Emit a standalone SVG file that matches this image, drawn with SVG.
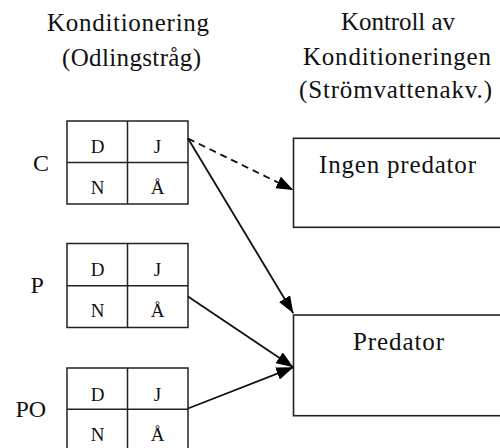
<svg xmlns="http://www.w3.org/2000/svg" width="500" height="448" viewBox="0 0 500 448">
<defs>
<style>
text{font-family:"Liberation Serif","Times New Roman",serif;fill:#111}
.h{font-size:25px}
.g{font-size:19px;text-anchor:middle}
.lab{font-size:24px}
.cell{fill:#fff;stroke:#222;stroke-width:1.5}
.box{fill:#fff;stroke:#222;stroke-width:1.6}
.conn{fill:none;stroke:#111;stroke-width:1.8}
.dash{stroke-dasharray:7 5}
</style>
<marker id="ah" markerUnits="userSpaceOnUse" markerWidth="17" markerHeight="13" refX="17" refY="6.5" orient="auto">
<path d="M0,0 L17,6.5 L0,13 z" fill="#000"/>
</marker>
</defs>
<rect width="500" height="448" fill="#fff"/>

<g id="header-left">
<text class="h" x="47" y="31" textLength="162">Konditionering</text>
<text class="h" x="62" y="65.5" textLength="139">(Odlingstråg)</text>
</g>
<g id="header-right">
<text class="h" x="341" y="29.5" textLength="114">Kontroll av</text>
<text class="h" x="303" y="64.5" textLength="188">Konditioneringen</text>
<text class="h" x="299" y="98" textLength="193">(Strömvattenakv.)</text>
</g>

<g id="grid-C">
<text class="lab" x="33" y="171">C</text>
<rect class="cell" x="67" y="121" width="121" height="83"/>
<line class="cell" x1="67" y1="162.5" x2="188" y2="162.5"/>
<line class="cell" x1="127.5" y1="121" x2="127.5" y2="204"/>
<text class="g" x="97.5" y="152.5">D</text>
<text class="g" x="157.5" y="152.5">J</text>
<text class="g" x="97.5" y="193.5">N</text>
<text class="g" x="157.5" y="193.5">Å</text>
</g>

<g id="grid-P">
<text class="lab" x="30.5" y="293">P</text>
<rect class="cell" x="67" y="243.5" width="121" height="84"/>
<line class="cell" x1="67" y1="285.7" x2="188" y2="285.7"/>
<line class="cell" x1="127.5" y1="243.5" x2="127.5" y2="327.5"/>
<text class="g" x="97.5" y="275.5">D</text>
<text class="g" x="157.5" y="275.5">J</text>
<text class="g" x="97.5" y="317">N</text>
<text class="g" x="157.5" y="317">Å</text>
</g>

<g id="grid-PO">
<text class="lab" x="15.5" y="417">PO</text>
<rect class="cell" x="67" y="368" width="121" height="84"/>
<line class="cell" x1="67" y1="409.3" x2="188" y2="409.3"/>
<line class="cell" x1="127.5" y1="368" x2="127.5" y2="452"/>
<text class="g" x="97.5" y="400.5">D</text>
<text class="g" x="157.5" y="400.5">J</text>
<text class="g" x="97.5" y="441">N</text>
<text class="g" x="157.5" y="441">Å</text>
</g>

<g id="box-ingen">
<rect class="box" x="293.5" y="138.3" width="220" height="89"/>
<text class="h" x="319" y="172.5" textLength="157">Ingen predator</text>
</g>

<g id="box-predator">
<rect class="box" x="293.5" y="315" width="220" height="100.7"/>
<text class="h" x="353" y="350" textLength="91">Predator</text>
</g>

<g id="connectors">
<line class="conn dash" x1="188" y1="138.5" x2="293.3" y2="190" marker-end="url(#ah)"/>
<line class="conn" x1="188" y1="138.5" x2="293.3" y2="313.3" marker-end="url(#ah)"/>
<line class="conn" x1="188" y1="296.5" x2="293.3" y2="367.3" marker-end="url(#ah)"/>
<line class="conn" x1="188" y1="408.5" x2="293.3" y2="367.3" marker-end="url(#ah)"/>
</g>
</svg>
